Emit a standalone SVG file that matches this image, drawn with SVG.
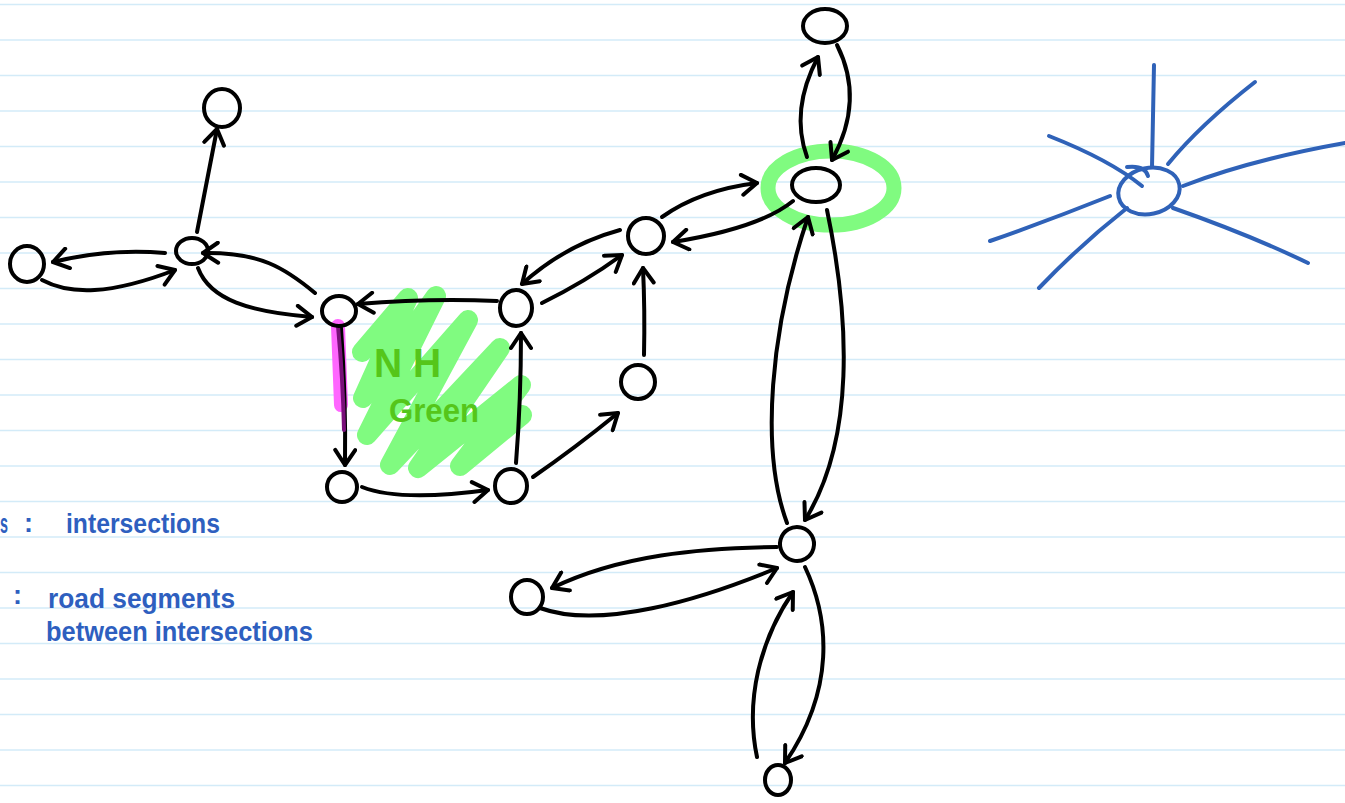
<svg xmlns="http://www.w3.org/2000/svg" width="1345" height="803" viewBox="0 0 1345 803">
<defs>
<style>
.rule{stroke:#d3ebf8;stroke-width:1.5}
.node{fill:none;stroke:#000;stroke-width:4}
.edge{fill:none;stroke:#000;stroke-width:4;stroke-linecap:round;marker-end:url(#arr)}
.blue{fill:none;stroke:#2f62b8;stroke-width:4;stroke-linecap:round}
.btext{font-family:"Liberation Sans",Arial,sans-serif;fill:#2e5fbf;font-size:27px;font-weight:bold}
.gtext{font-family:"Liberation Sans",Arial,sans-serif;fill:#55c61a;font-weight:bold}
</style>
<marker id="arr" viewBox="-18 -12 24 24" refX="0" refY="0" markerWidth="24" markerHeight="24" markerUnits="userSpaceOnUse" orient="auto">
<path d="M-15,-10 L0,0 L-15,10" fill="none" stroke="#000" stroke-width="4" stroke-linecap="round" stroke-linejoin="round"/>
</marker>
</defs>
<rect width="1345" height="803" fill="#fff"/>
<g id="ruling">
<line class="rule" x1="0" y1="4.5" x2="1345" y2="4.5"/>
<line class="rule" x1="0" y1="40" x2="1345" y2="40"/>
<line class="rule" x1="0" y1="75.5" x2="1345" y2="75.5"/>
<line class="rule" x1="0" y1="111" x2="1345" y2="111"/>
<line class="rule" x1="0" y1="146.5" x2="1345" y2="146.5"/>
<line class="rule" x1="0" y1="182" x2="1345" y2="182"/>
<line class="rule" x1="0" y1="217.5" x2="1345" y2="217.5"/>
<line class="rule" x1="0" y1="253" x2="1345" y2="253"/>
<line class="rule" x1="0" y1="288.5" x2="1345" y2="288.5"/>
<line class="rule" x1="0" y1="324" x2="1345" y2="324"/>
<line class="rule" x1="0" y1="359.5" x2="1345" y2="359.5"/>
<line class="rule" x1="0" y1="395" x2="1345" y2="395"/>
<line class="rule" x1="0" y1="430.5" x2="1345" y2="430.5"/>
<line class="rule" x1="0" y1="466" x2="1345" y2="466"/>
<line class="rule" x1="0" y1="501.5" x2="1345" y2="501.5"/>
<line class="rule" x1="0" y1="537" x2="1345" y2="537"/>
<line class="rule" x1="0" y1="572.5" x2="1345" y2="572.5"/>
<line class="rule" x1="0" y1="608" x2="1345" y2="608"/>
<line class="rule" x1="0" y1="643.5" x2="1345" y2="643.5"/>
<line class="rule" x1="0" y1="679" x2="1345" y2="679"/>
<line class="rule" x1="0" y1="714.5" x2="1345" y2="714.5"/>
<line class="rule" x1="0" y1="750" x2="1345" y2="750"/>
<line class="rule" x1="0" y1="785.5" x2="1345" y2="785.5"/>
</g>
<g id="highlights">
<path d="M362,352 L408,298 L363,398 L436,296 L367,435 L468,320 L390,465 L500,348 L418,468 L521,385 L460,466 L522,415" fill="none" stroke="#80fb80" stroke-width="20" stroke-linejoin="round" stroke-linecap="round"/>
<path d="M338,326 L341,405" fill="none" stroke="#ff66ff" stroke-width="14" stroke-linecap="round"/>
<ellipse cx="831" cy="188" rx="63" ry="37" fill="none" stroke="#80fb80" stroke-width="15"/>
</g>
<g id="connectors">
<path class="edge" d="M197,232 Q208,175 217,129"/>
<path class="edge" d="M165,253 Q110,248 53,262"/>
<path class="edge" d="M42,280 C70,295 110,295 175,270"/>
<path class="edge" d="M315,293 C285,268 260,252 203,253"/>
<path class="edge" d="M198,268 C210,300 250,312 312,317"/>
<path class="edge" d="M497,301 Q430,298 358,304"/>
<path class="edge" d="M341,328 Q346,400 345,465"/>
<path class="edge" d="M362,487 Q400,502 488,490"/>
<path class="edge" d="M516,463 Q521,400 521,333"/>
<path class="edge" d="M533,477 Q575,448 618,413"/>
<path class="edge" d="M644,355 Q645,310 643,268"/>
<path class="edge" d="M542,303 Q585,282 622,255"/>
<path class="edge" d="M620,230 Q565,245 522,284"/>
<path class="edge" d="M662,217 Q700,190 757,183"/>
<path class="edge" d="M793,201 Q760,228 673,242"/>
<path class="edge" d="M807,157 Q790,110 818,57"/>
<path class="edge" d="M837,45 Q865,100 832,160"/>
<path class="edge" d="M787,523 C760,450 770,330 808,217"/>
<path class="edge" d="M827,210 C850,320 855,440 805,520"/>
<path class="edge" d="M777,547 C700,548 620,555 552,588"/>
<path class="edge" d="M540,608 C600,630 700,600 777,568"/>
<path class="edge" d="M757,757 C745,700 760,640 793,592"/>
<path class="edge" d="M805,567 C830,620 835,690 785,763"/>
</g>
<path id="segment-highlight" d="M338,326 Q343,380 344,430" fill="none" stroke="#7a107a" stroke-width="4" stroke-linecap="round"/>
<g id="node-A"><ellipse class="node" cx="222" cy="108" rx="18" ry="19"/></g>
<g id="node-B"><ellipse class="node" cx="27" cy="264" rx="17" ry="18"/></g>
<g id="node-C"><ellipse class="node" cx="192" cy="251" rx="16" ry="13"/></g>
<g id="node-D"><ellipse class="node" cx="339" cy="311" rx="17" ry="15"/></g>
<g id="node-E"><ellipse class="node" cx="516" cy="308" rx="16" ry="18"/></g>
<g id="node-F"><ellipse class="node" cx="342" cy="487" rx="15" ry="15"/></g>
<g id="node-G"><ellipse class="node" cx="511" cy="486" rx="16" ry="17"/></g>
<g id="node-H"><ellipse class="node" cx="638" cy="382" rx="17" ry="17"/></g>
<g id="node-I"><ellipse class="node" cx="646" cy="236" rx="18" ry="18"/></g>
<g id="node-J"><ellipse class="node" cx="816" cy="185" rx="24" ry="17"/></g>
<g id="node-K"><ellipse class="node" cx="825" cy="26" rx="22" ry="17"/></g>
<g id="node-L"><ellipse class="node" cx="797" cy="544" rx="17" ry="17" transform="rotate(-30 797 544)"/></g>
<g id="node-M"><ellipse class="node" cx="527" cy="597" rx="16" ry="17"/></g>
<g id="node-N"><ellipse class="node" cx="778" cy="780" rx="13" ry="15"/></g>
<g id="sun">
<ellipse class="blue" cx="1149" cy="191" rx="31" ry="23" transform="rotate(-12 1149 191)"/>
<path class="blue" d="M1127,167 Q1145,165 1148,176"/>
<path class="blue" d="M1154,65 L1152,167"/>
<path class="blue" d="M1255,82 Q1200,125 1168,164"/>
<path class="blue" d="M1345,143 Q1250,160 1183,186"/>
<path class="blue" d="M1173,208 Q1250,235 1308,263"/>
<path class="blue" d="M1127,208 Q1080,245 1039,288"/>
<path class="blue" d="M1110,196 Q1050,220 990,241"/>
<path class="blue" d="M1049,136 Q1110,160 1142,186"/>
</g>
<g id="legend">
<text class="btext" x="0" y="533" textLength="8" lengthAdjust="spacingAndGlyphs">s</text>
<text class="btext" x="24" y="532">:</text>
<text class="btext" x="66" y="533" textLength="154" lengthAdjust="spacingAndGlyphs">intersections</text>
<text class="btext" x="13" y="604">:</text>
<text class="btext" x="48" y="608" textLength="187" lengthAdjust="spacingAndGlyphs">road segments</text>
<text class="btext" x="46" y="641" textLength="267" lengthAdjust="spacingAndGlyphs">between intersections</text>
</g>
<g id="label-nh">
<text class="gtext" x="374" y="377" font-size="40" textLength="67" lengthAdjust="spacingAndGlyphs">N H</text>
<text class="gtext" x="389" y="422" font-size="34" textLength="90" lengthAdjust="spacingAndGlyphs">Green</text>
</g>
</svg>
